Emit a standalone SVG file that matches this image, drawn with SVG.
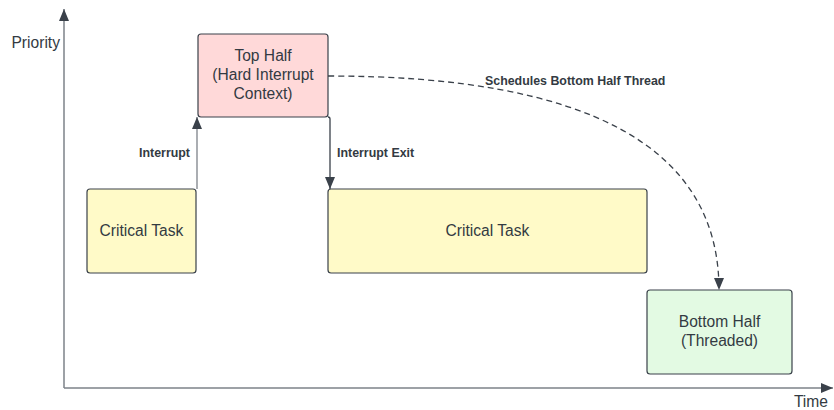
<svg xmlns="http://www.w3.org/2000/svg" width="834" height="410" viewBox="0 0 834 410">
<style>
.node{stroke:#3a414a;stroke-width:1.2}
.nt{font-family:"Liberation Sans",Arial,sans-serif;font-size:15.6px;fill:#333a42;text-anchor:middle}
.lbl{font-family:"Liberation Sans",Arial,sans-serif;font-size:12.4px;font-weight:bold;fill:#333a42}
.axis{stroke:#7d8289;stroke-width:1.5;fill:none}
.ax{font-family:"Liberation Sans",Arial,sans-serif;font-size:15.6px;fill:#333a42}
.conn{stroke:#3a414a;stroke-width:1.3;fill:none}
.grey{stroke:#7d8289}
</style>
<defs>
<marker id="ah" markerUnits="userSpaceOnUse" markerWidth="12" markerHeight="12" viewBox="0 0 12 12" refX="12" refY="6" orient="auto">
<path d="M0,1 L12,6 L0,11 Z" fill="#3a414a"/>
</marker>
</defs>
<g id="axes">
<line class="axis" x1="64" y1="388" x2="64" y2="9" marker-end="url(#ah)"/>
<line class="axis" x1="64" y1="388" x2="833" y2="388" marker-end="url(#ah)"/>
<text class="ax" x="60" y="48" text-anchor="end">Priority</text>
<text class="ax" x="828" y="407" text-anchor="end">Time</text>
</g>
<g id="top-half">
<rect class="node" x="198" y="34" width="130" height="83" rx="3" fill="#ffd9d9"/>
<text class="nt" x="263" y="61">Top Half</text>
<text class="nt" x="263" y="80">(Hard Interrupt</text>
<text class="nt" x="263" y="99">Context)</text>
</g>
<g id="critical-task-1">
<rect class="node" x="87" y="189" width="109" height="84" rx="3" fill="#fffac8"/>
<text class="nt" x="141.5" y="236">Critical Task</text>
</g>
<g id="critical-task-2">
<rect class="node" x="328" y="189" width="319" height="84" rx="3" fill="#fffac8"/>
<text class="nt" x="487.5" y="236">Critical Task</text>
</g>
<g id="bottom-half">
<rect class="node" x="647" y="290" width="145" height="84" rx="3" fill="#e3fae3"/>
<text class="nt" x="719.5" y="327">Bottom Half</text>
<text class="nt" x="719.5" y="346">(Threaded)</text>
</g>
<g id="connectors">
<line class="conn grey" x1="197" y1="189" x2="197" y2="117" marker-end="url(#ah)"/>
<text class="lbl" x="190" y="157" text-anchor="end">Interrupt</text>
<path class="conn" d="M328,117 Q330,117 330,119 L330,189" marker-end="url(#ah)"/>
<text class="lbl" x="337" y="157">Interrupt Exit</text>
<path class="conn" d="M328,76 Q719,76 719,290" stroke-dasharray="6,4" marker-end="url(#ah)"/>
<text class="lbl" x="485" y="85">Schedules Bottom Half Thread</text>
</g>
</svg>
